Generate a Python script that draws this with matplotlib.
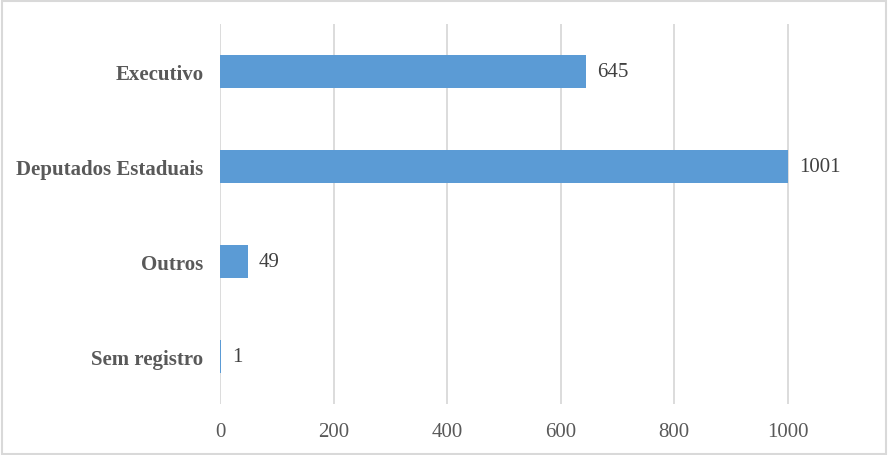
import matplotlib
matplotlib.use("Agg")
import matplotlib.pyplot as plt
import matplotlib.patches as patches

categories = ["Executivo", "Deputados Estaduais", "Outros", "Sem registro"]
values = [645, 1001, 49, 1]
x_ticks = [0, 200, 400, 600, 800, 1000]

BAR_COLOR = "#5B9BD5"
TEXT_COLOR = "#595959"
GRID_COLOR = "#d9d9d9"

plt.rcParams["font.family"] = ["Liberation Serif", "DejaVu Serif"]

fig = plt.figure(figsize=(8.89, 4.56), dpi=100)
ax = fig.add_axes([0.2475, 0.112, 0.7311, 0.833])

y = range(len(categories))
ax.barh(y, values, height=0.35, color=BAR_COLOR, zorder=3)

for yi, v in zip(y, values):
    ax.annotate(str(v), (v, yi), xytext=(8, 0), textcoords="offset points",
                va="center", ha="left", fontsize=15, color="#404040")

ax.set_yticks(list(y))
ax.set_yticklabels(categories, fontsize=15, fontweight="bold", color=TEXT_COLOR)
ax.invert_yaxis()
ax.set_ylim(3.5, -0.5)

ax.set_xlim(0, 1145)
ax.set_xticks(x_ticks)
ax.set_xticklabels([str(t) for t in x_ticks], fontsize=15, color=TEXT_COLOR)
ax.xaxis.grid(True, color=GRID_COLOR, linewidth=1.3, zorder=0)
ax.tick_params(axis="both", length=0)
ax.tick_params(axis="x", pad=13)
ax.tick_params(axis="y", pad=12)

for side in ["top", "right", "bottom", "left"]:
    ax.spines[side].set_visible(False)

# outer chart border
fig.add_artist(patches.Rectangle((0.002, 0.003), 0.995, 0.993, transform=fig.transFigure,
                                 fill=False, edgecolor=GRID_COLOR, linewidth=1.5))

fig.savefig("out.png", dpi=100)
